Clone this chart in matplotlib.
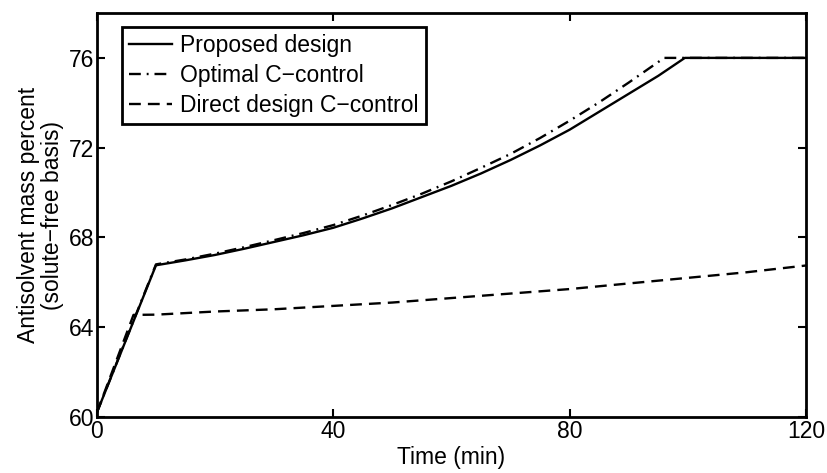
import numpy as np
import matplotlib.pyplot as plt

plt.rcParams['font.family'] = ['Liberation Sans', 'DejaVu Sans']

# data (time in min, antisolvent mass percent)
t_prop = [0, 10, 15, 20, 25, 30, 35, 40, 45, 50, 55, 60, 65, 70, 75, 80, 85, 90, 95, 99.5, 120]
y_prop = [60.2, 66.76, 66.98, 67.22, 67.5, 67.8, 68.1, 68.43, 68.85, 69.3, 69.8, 70.3,
          70.85, 71.45, 72.1, 72.8, 73.6, 74.4, 75.2, 76.0, 76.0]

t_opt = [0, 10, 15, 20, 25, 30, 35, 40, 45, 50, 55, 60, 65, 70, 75, 80, 85, 90, 96, 120]
y_opt = [60.2, 66.8, 67.02, 67.28, 67.57, 67.88, 68.2, 68.55, 68.98, 69.45, 69.95, 70.5,
         71.1, 71.72, 72.43, 73.2, 74.02, 74.9, 76.0, 76.0]

t_dir = [0, 6.2, 10, 20, 30, 40, 50, 60, 70, 80, 90, 100, 110, 120]
y_dir = [60.2, 64.55, 64.56, 64.7, 64.8, 64.95, 65.1, 65.3, 65.5, 65.7, 65.95, 66.2, 66.45, 66.75]

labels = ["Proposed design", "Optimal C\u2212control", "Direct design C\u2212control"]

fig = plt.figure(figsize=(8.28, 4.73), dpi=100)
ax = fig.add_axes([0.117, 0.1184, 0.8564, 0.8541])

ax.plot(t_prop, y_prop, color="black", linewidth=1.7, label=labels[0])
ax.plot(t_opt, y_opt, color="black", linewidth=1.7, linestyle=(0, (5, 2.5, 0.8, 2.5)),
        label=labels[1])
ax.plot(t_dir, y_dir, color="black", linewidth=1.7, linestyle=(0, (5, 3)), label=labels[2])

ax.set_xlim(0, 120)
ax.set_ylim(60, 78)
ax.set_xticks([0, 40, 80, 120])
ax.set_yticks([60, 64, 68, 72, 76])
ax.tick_params(direction="in", length=6, width=1.5, top=True, right=True,
               labelsize=16.5, pad=2)
for s in ax.spines.values():
    s.set_linewidth(2)

ax.set_xlabel("Time (min)", fontsize=16.5, labelpad=2)
ax.set_ylabel("Antisolvent mass percent\n(solute\u2212free basis)", fontsize=16.5,
              labelpad=3, linespacing=1.1)

leg = ax.legend(loc="upper left", bbox_to_anchor=(0.035, 0.965), fontsize=16.5,
                fancybox=False, framealpha=1, edgecolor="black", handlelength=1.9,
                handletextpad=0.35, labelspacing=0.3, borderpad=0.3, borderaxespad=0)
leg.get_frame().set_linewidth(2)

fig.savefig("out.png", dpi=100)
